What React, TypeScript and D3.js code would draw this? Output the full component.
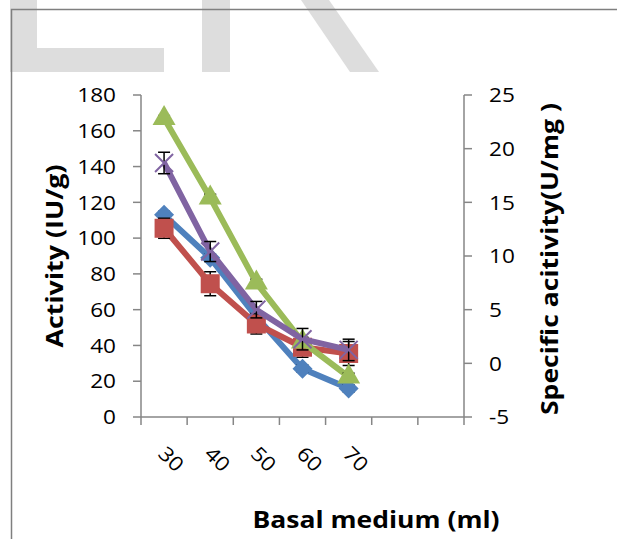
import React from "react";
import * as d3 from "d3";

const categories = ["30", "40", "50", "60", "70", "", ""];
const leftTicks = [0, 20, 40, 60, 80, 100, 120, 140, 160, 180];
const rightTicks = [-5, 0, 5, 10, 15, 20, 25];

const blueValues = [113, 89, 56, 27, 16];
const blueErrors = [2, 2, 2, 2, 2];
const redValues = [105.5, 74.5, 52, 39, 35.5];
const redErrors = [5.6, 6.7, 5.6, 5.6, 6.7];
const greenValues = [167, 122.5, 75, 42, 22.5];
const greenErrors = [1.5, 2, 2, 2, 2];
const purpleValues = [142, 92.5, 60, 43.5, 37.5];
const purpleErrors = [6, 5.6, 4.6, 6, 6];

const W = 617;
const H = 539;
const plot = { left: 141, right: 464, top: 95, bottom: 417 };
const FONT = "'Open Sans', sans-serif";
const SX = 1.13;

type Series = { values: number[]; errors: number[]; color: string; marker: string };
const series: Series[] = [
  { values: blueValues, errors: blueErrors, color: "#4F81BD", marker: "diamond" },
  { values: redValues, errors: redErrors, color: "#C0504D", marker: "square" },
  { values: greenValues, errors: greenErrors, color: "#9BBB59", marker: "triangle" },
  { values: purpleValues, errors: purpleErrors, color: "#8064A2", marker: "x" },
];

export default function App() {
  const x = d3
    .scaleBand<number>()
    .domain(d3.range(categories.length))
    .range([plot.left, plot.right]);
  const y = d3.scaleLinear().domain([0, 180]).range([plot.bottom, plot.top]);
  const y2 = d3.scaleLinear().domain([-5, 25]).range([plot.bottom, plot.top]);
  const cx = (i: number) => (x(i) as number) + x.bandwidth() / 2;
  const line = d3
    .line<number>()
    .x((_, i) => cx(i))
    .y((d) => y(d));
  const axisColor = "#868686";

  const marker = (s: Series, i: number, v: number) => {
    const px = cx(i);
    const py = y(v);
    const key = `${s.marker}-${i}`;
    if (s.marker === "diamond") {
      const r = 10;
      return (
        <path key={key} d={`M${px},${py - r}L${px + r},${py}L${px},${py + r}L${px - r},${py}Z`} fill={s.color} />
      );
    }
    if (s.marker === "square") {
      const r = 9.5;
      return <rect key={key} x={px - r} y={py - r} width={2 * r} height={2 * r} fill={s.color} />;
    }
    if (s.marker === "triangle") {
      const sym = d3.symbol(d3.symbolTriangle, 230)();
      return <path key={key} d={sym as string} transform={`translate(${px},${py})`} fill={s.color} />;
    }
    const r = 9;
    return (
      <path
        key={key}
        d={`M${px - r},${py - r}L${px + r},${py + r}M${px - r},${py + r}L${px + r},${py - r}`}
        stroke={s.color}
        strokeWidth={2}
        fill="none"
      />
    );
  };

  return (
    <svg
      width={W}
      height={H}
      style={{ position: "absolute", left: 0, top: 0, background: "#fff" }}
      fontFamily={FONT}
    >
      {/* watermark */}
      <g fill="#dddddd">
        <polygon points="10,0 37,0 37,48 164,48 164,72 10,72" />
        <polygon points="202,0 230,0 230,72 202,72" />
        <polygon points="301,0 329,0 379,72 350,72" />
      </g>
      {/* frame */}
      <path d={`M11.5,${H}V9.5H${W}`} stroke="#7f7f7f" strokeWidth={1.5} fill="none" />

      {/* axes */}
      <g stroke={axisColor} strokeWidth={1.5} fill="none">
        <line x1={plot.left} x2={plot.left} y1={plot.top} y2={plot.bottom} />
        <line x1={plot.right} x2={plot.right} y1={plot.top} y2={plot.bottom} />
        <line x1={plot.left} x2={plot.right} y1={plot.bottom} y2={plot.bottom} />
        {leftTicks.map((t) => (
          <line key={`lt${t}`} x1={plot.left - 8} x2={plot.left} y1={y(t)} y2={y(t)} />
        ))}
        {rightTicks.map((t) => (
          <line key={`rt${t}`} x1={plot.right} x2={plot.right + 8} y1={y2(t)} y2={y2(t)} />
        ))}
        {d3.range(categories.length + 1).map((i) => {
          const xx = i < categories.length ? (x(i) as number) : plot.right;
          return <line key={`xt${i}`} x1={xx} x2={xx} y1={plot.bottom} y2={plot.bottom + 8} />;
        })}
      </g>

      {/* tick labels */}
      <g fontSize={20} fill="#000">
        {leftTicks.map((t) => (
          <text key={`ll${t}`} transform={`translate(116,${y(t)}) scale(${SX},1)`} dy="0.36em" textAnchor="end">
            {t}
          </text>
        ))}
        {rightTicks.map((t) => (
          <text key={`rl${t}`} transform={`translate(489,${y2(t)}) scale(${SX},1)`} dy="0.36em" textAnchor="start">
            {t}
          </text>
        ))}
        {categories.map((c, i) =>
          c ? (
            <text
              key={`cl${i}`}
              transform={`translate(${cx(i) - 2},${plot.bottom + 33}) rotate(45) scale(${SX},1)`}
              textAnchor="start"
              dy="0.35em"
            >
              {c}
            </text>
          ) : null
        )}
      </g>

      {/* titles */}
      <g fontSize={23} fontWeight="bold" fill="#000">
        <text x={376} y={528} textAnchor="middle" textLength={247} lengthAdjust="spacingAndGlyphs">
          Basal medium (ml)
        </text>
        <text
          transform={`translate(63,256) rotate(-90)`}
          textAnchor="middle"
          textLength={183}
          lengthAdjust="spacingAndGlyphs"
        >
          Activity (IU/g)
        </text>
        <text
          transform={`translate(558,259) rotate(-90)`}
          textAnchor="middle"
          textLength={312}
          lengthAdjust="spacingAndGlyphs"
        >
          Specific acitivity(U/mg )
        </text>
      </g>

      {/* series */}
      {series.map((s, si) => (
        <g key={`s${si}`}>
          <path d={line(s.values) as string} stroke={s.color} strokeWidth={6} fill="none" strokeLinejoin="round" />
          <g stroke="#000" strokeWidth={1.5}>
            {s.values.map((v, i) => (
              <g key={`e${i}`}>
                <line x1={cx(i)} x2={cx(i)} y1={y(v - s.errors[i])} y2={y(v + s.errors[i])} />
                <line x1={cx(i) - 6} x2={cx(i) + 6} y1={y(v - s.errors[i])} y2={y(v - s.errors[i])} />
                <line x1={cx(i) - 6} x2={cx(i) + 6} y1={y(v + s.errors[i])} y2={y(v + s.errors[i])} />
              </g>
            ))}
          </g>
          {s.values.map((v, i) => marker(s, i, v))}
        </g>
      ))}
    </svg>
  );
}
